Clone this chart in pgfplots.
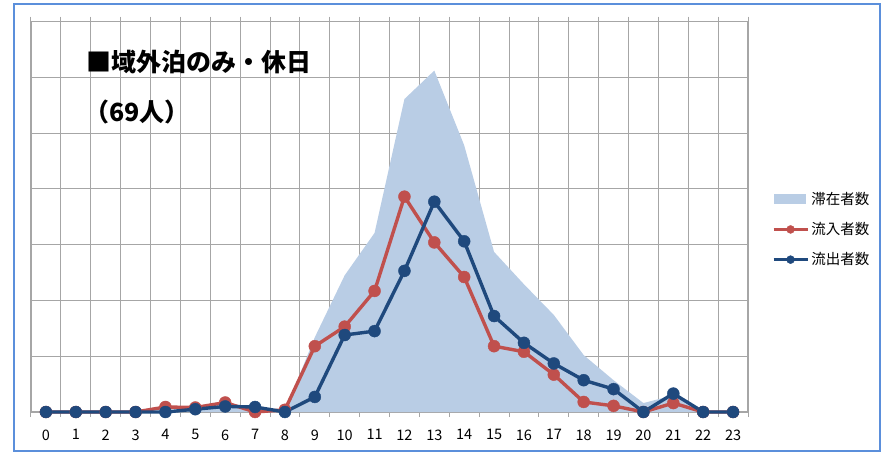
\documentclass[border=0pt]{standalone}
\usepackage{pgfplots}
\usepackage{pgfplotstable}
\pgfplotsset{compat=1.18}
\usepackage{fontspec}
\setmainfont{Noto Sans CJK JP}
\definecolor{areac}{HTML}{B9CDE5}
\definecolor{redc}{HTML}{C0504D}
\definecolor{bluec}{HTML}{1F497D}
\definecolor{gridc}{HTML}{A6A6A6}
\definecolor{framec}{HTML}{5B8FDB}
\pgfplotsset{
  mylinelegend/.style={legend image code/.code={\draw[##1, mark size=4pt, mark repeat=2, mark phase=2] plot coordinates {(0pt,0pt)(17pt,0pt)(34pt,0pt)};}},
  myarealegend/.style={legend image code/.code={\fill[areac] (0pt,-5pt) rectangle (32pt,5pt);}},
}
\pgfplotstableread{
h stay in out
0 0 0 0
1 0 0 0
2 0 0 0
3 0 0 0
4 0.02 0.09 0
5 0.05 0.08 0.05
6 0.08 0.17 0.10
7 0.05 0 0.09
8 0.02 0.04 0
9 1.34 1.18 0.27
10 2.45 1.53 1.38
11 3.21 2.17 1.45
12 5.61 3.86 2.53
13 6.12 3.04 3.77
14 4.78 2.42 3.06
15 2.87 1.18 1.72
16 2.29 1.08 1.24
17 1.74 0.67 0.87
18 1.02 0.18 0.57
19 0.57 0.11 0.41
20 0.16 0 0
21 0.30 0.16 0.33
22 0 0 0
23 0 0 0
}\data
\begin{document}
\begin{tikzpicture}[x=1pt,y=1pt]
\path (0,0) rectangle (886,455);
\draw[color=framec, line width=2.5pt] (14,4) rectangle (880,451);
\begin{axis}[
  at={(31pt,43pt)}, anchor=south west,
  scale only axis, width=717pt, height=390.5pt,
  xmin=-0.5, xmax=23.5, ymin=0, ymax=7,
  clip=false,
  xtick={0,...,23},
  minor xtick={-0.5,0.5,...,23.5},
  major tick length=0pt, minor tick length=5pt, tick align=outside,
  ytick={0,...,7}, yticklabels={},
  ymajorgrids, xminorgrids,
  grid style={color=gridc, line width=1pt},
  minor grid style={color=gridc, line width=1pt},
  minor tick style={color=gridc, line width=1pt},
  axis line style={color=gridc, line width=1.4pt},
  /pgf/number format/assume math mode=true,
  xticklabel style={font=\fontsize{14.5}{16}\selectfont, yshift=-14pt},
  legend style={at={(axis description cs:1.033,0.568)}, anchor=north west,
    draw=none, fill=none, font=\fontsize{14.5}{17}\selectfont,
    row sep=12.5pt, inner sep=0pt, cells={anchor=west}},
]
\addplot[fill=areac, draw=none, myarealegend]
  table[x=h, y=stay] {\data} \closedcycle;
\addlegendentry{滞在者数}
\addplot[color=redc, line width=3.4pt, mark=*, mark size=6pt,
  mark options={fill=redc, draw=redc, line width=0.4pt}, mylinelegend]
  table[x=h, y=in] {\data};
\addlegendentry{流入者数}
\addplot[color=bluec, line width=3.4pt, mark=*, mark size=6pt,
  mark options={fill=bluec, draw=bluec, line width=0.4pt}, mylinelegend]
  table[x=h, y=out] {\data};
\addlegendentry{流出者数}
\end{axis}
\node[anchor=west, inner sep=0pt, font=\fontsize{25}{28}\selectfont\bfseries] at (86,393) {■域外泊のみ・休日};
\node[anchor=west, inner sep=0pt, font=\fontsize{25}{28}\selectfont\bfseries] at (84,343) {（69人）};
\end{tikzpicture}
\end{document}
